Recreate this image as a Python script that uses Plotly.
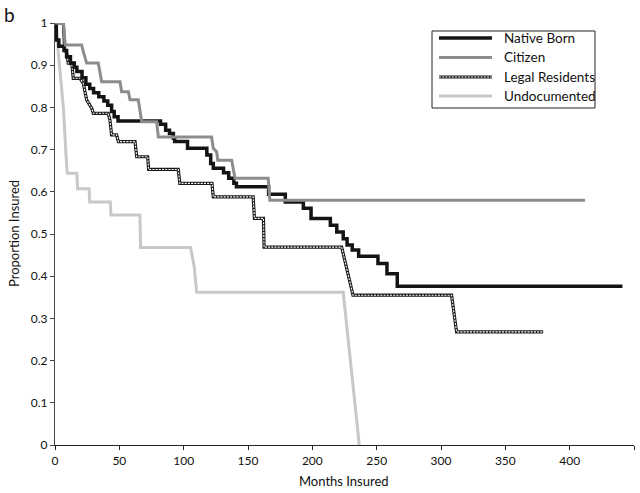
import plotly.graph_objects as go

# ---- data (months insured, proportion insured) ----
native_x = [0, 1, 1, 3, 3, 7, 7, 9, 9, 12, 12, 15, 15, 17, 17, 21, 21, 24, 24, 27, 27, 30, 30, 34, 34, 38, 38, 41, 41, 44, 44, 46, 46, 49, 49,
            82, 82, 86, 86, 89, 89, 92, 92, 93, 93, 103, 103, 118, 118, 121, 121, 123, 123, 131, 131, 135, 135, 139, 139, 141, 141,
            166, 166, 179, 179, 193, 193, 199, 199, 214, 214, 219, 219, 224, 224, 227, 227, 231, 231, 236, 236, 251, 251, 258, 258, 266, 266, 441]
native_y = [1, 1, 0.96, 0.96, 0.945, 0.945, 0.935, 0.935, 0.92, 0.92, 0.905, 0.905, 0.895, 0.895, 0.885, 0.885, 0.87, 0.87, 0.855, 0.855,
            0.845, 0.845, 0.835, 0.835, 0.825, 0.825, 0.815, 0.815, 0.805, 0.805, 0.79, 0.79, 0.778, 0.778, 0.768,
            0.768, 0.76, 0.76, 0.746, 0.746, 0.738, 0.738, 0.727, 0.727, 0.719, 0.719, 0.703, 0.703, 0.687, 0.687, 0.667, 0.667, 0.656,
            0.656, 0.645, 0.645, 0.632, 0.632, 0.62, 0.62, 0.612,
            0.612, 0.594, 0.594, 0.576, 0.576, 0.561, 0.561, 0.537, 0.537, 0.521, 0.521, 0.505, 0.505, 0.489, 0.489, 0.474, 0.474, 0.462,
            0.462, 0.447, 0.447, 0.430, 0.430, 0.406, 0.406, 0.376, 0.376]

citizen_x = [0, 6.5, 8, 20.7, 22, 24.6, 33.6, 35, 36.3, 50.5, 51.8, 57, 58.3, 64.7, 66, 67.4, 79, 80.3, 121.7, 123, 125.6, 126.5,
             137.3, 138.6, 139.9, 165.7, 167, 412]
citizen_y = [1, 1, 0.948, 0.948, 0.932, 0.905, 0.905, 0.881, 0.861, 0.861, 0.837, 0.837, 0.818, 0.818, 0.794, 0.766, 0.766, 0.730,
             0.730, 0.703, 0.695, 0.675, 0.675, 0.655, 0.632, 0.632, 0.580, 0.580]

legal_x = [0, 6.5, 7.5, 9, 10.3, 13, 14.2, 19.4, 22, 24.6, 28.5, 29.8, 41.4, 42.7, 44, 47.9, 49.2, 62.2, 63.5, 72, 72.8, 95.8, 97,
           122, 123, 154, 155, 162, 162.5, 222.8, 231.6, 308.2, 312.1, 379.4]
legal_y = [1, 1, 0.936, 0.93, 0.905, 0.905, 0.869, 0.869, 0.857, 0.818, 0.798, 0.786, 0.786, 0.770, 0.735, 0.735, 0.719, 0.719,
           0.683, 0.683, 0.653, 0.653, 0.620, 0.620, 0.588, 0.588, 0.537, 0.537, 0.469, 0.469, 0.355, 0.355, 0.268, 0.268]

undoc_x = [0, 1, 2.6, 5.2, 6.5, 8.5, 9.5, 17, 17.5, 26.5, 27, 43, 43.5, 66, 66.5, 105.4, 108.2, 110.1, 224, 236.5]
undoc_y = [1, 1, 0.928, 0.853, 0.80, 0.69, 0.644, 0.644, 0.607, 0.607, 0.576, 0.576, 0.545, 0.545, 0.468, 0.468, 0.422, 0.362,
           0.362, 0.0]

series_names = ["Native Born", "Citizen", "Legal Residents", "Undocumented"]
x_ticks = [0, 50, 100, 150, 200, 250, 300, 350, 400, 450]
y_ticks = [0, 0.1, 0.2, 0.3, 0.4, 0.5, 0.6, 0.7, 0.8, 0.9, 1]

# ---- styles ----
C_NATIVE = "#141414"
C_CITIZEN = "#8c8c8c"
C_UNDOC = "#c8c8c8"
FONT = "Lato, 'Open Sans', sans-serif"

fig = go.Figure()
fig.add_trace(go.Scatter(x=undoc_x, y=undoc_y, mode="lines", name=series_names[3],
                         line=dict(color=C_UNDOC, width=3), showlegend=False))
fig.add_trace(go.Scatter(x=legal_x, y=legal_y, mode="lines", name=series_names[2],
                         line=dict(color="#1a1a1a", width=3.2), showlegend=False))
fig.add_trace(go.Scatter(x=legal_x, y=legal_y, mode="lines", name=series_names[2] + " pattern",
                         line=dict(color="white", width=1.1, dash="2px,1.2px"), showlegend=False, hoverinfo="skip"))
fig.add_trace(go.Scatter(x=native_x, y=native_y, mode="lines", name=series_names[0],
                         line=dict(color=C_NATIVE, width=3.5), showlegend=False))
fig.add_trace(go.Scatter(x=citizen_x, y=citizen_y, mode="lines", name=series_names[1],
                         line=dict(color=C_CITIZEN, width=3), showlegend=False))

# plot area in pixels: x 55..634, y 23..445
L, R, T, B = 55, 634, 23, 445


def px(xp):
    return (xp - L) / (R - L)


def py(yp):
    return (B - yp) / (B - T)


shapes = []
annotations = []
# manual legend (box, samples, labels)
shapes.append(dict(type="rect", xref="paper", yref="paper", x0=px(432), x1=px(595), y0=py(108), y1=py(31),
                   line=dict(color="#222", width=1), fillcolor="white", layer="above"))
legend_rows = [38, 57.5, 77, 96]
styles = [
    [dict(color=C_NATIVE, width=3.5)],
    [dict(color=C_CITIZEN, width=3)],
    [dict(color="#1a1a1a", width=3.2), dict(color="white", width=1.1, dash="2px,1.2px")],
    [dict(color=C_UNDOC, width=3)],
]
for name, ry, st in zip(series_names, legend_rows, styles):
    for s in st:
        shapes.append(dict(type="line", xref="paper", yref="paper", x0=px(439), x1=px(492), y0=py(ry), y1=py(ry),
                           line=s, layer="above"))
    annotations.append(dict(text=name, xref="paper", yref="paper", x=px(502), y=py(ry), xanchor="left",
                            yanchor="middle", showarrow=False, font=dict(family=FONT, size=13.5, color="#111")))

annotations.append(dict(text="b", xref="paper", yref="paper", x=px(2), y=py(1), xanchor="left", yanchor="top",
                        showarrow=False, font=dict(family=FONT, size=19, color="#111")))
annotations.append(dict(text="Proportion Insured", xref="paper", yref="paper", x=px(14), y=py(234),
                        xanchor="center", yanchor="middle", textangle=-90, showarrow=False,
                        font=dict(family=FONT, size=13, color="#111")))
annotations.append(dict(text="Months Insured", xref="paper", yref="paper", x=px(344), y=py(481),
                        xanchor="center", yanchor="middle", showarrow=False,
                        font=dict(family=FONT, size=13, color="#111")))

fig.update_layout(
    width=640, height=493,
    margin=dict(l=L, r=640 - R, t=T, b=493 - B),
    paper_bgcolor="white", plot_bgcolor="white",
    showlegend=False,
    shapes=shapes, annotations=annotations,
    font=dict(family=FONT, size=12, color="#111"),
)
fig.update_xaxes(range=[0, 450], tickvals=x_ticks, ticktext=[str(v) for v in x_ticks],
                 showgrid=False, zeroline=False, showline=True, linecolor="#222", linewidth=1.2,
                 ticks="outside", ticklen=4, tickcolor="#222", tickfont=dict(size=12))
fig.update_yaxes(range=[0, 1], tickvals=y_ticks, ticktext=[("%g" % v) for v in y_ticks],
                 showgrid=False, zeroline=False, showline=True, linecolor="#444", linewidth=1.2,
                 ticks="outside", ticklen=4, tickcolor="#444", tickfont=dict(size=12))

fig.write_html("out.html", config={"displayModeBar": False},
               post_script="document.body.style.margin='0px';document.body.style.overflow='hidden';")
